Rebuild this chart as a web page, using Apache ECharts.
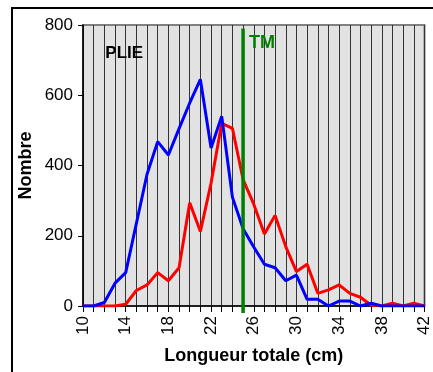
<!DOCTYPE html>
<html>
<head>
<meta charset="utf-8">
<script src="https://cdn.jsdelivr.net/npm/echarts@6/dist/echarts.min.js"></script>
<style>
  html, body { margin: 0; padding: 0; background: #fff; }
  #chart { width: 433px; height: 372px; }
</style>
</head>
<body>
<div id="chart"></div>
<script>
// Length classes (cm)
const lengths = ['10','11','12','13','14','15','16','17','18','19','20','21','22','23','24','25',
                 '26','27','28','29','30','31','32','33','34','35','36','37','38','39','40','41','42'];
// Catch counts per length class
const serieBleue = [0, 0, 10, 65, 95, 235, 375, 468, 430, 505, 578, 645, 450, 540, 310, 220,
                    168, 119, 109, 72, 88, 19, 19, 0, 14, 14, 0, 8, 0, 0, 0, 0, 0];
const serieRouge = [0, 0, 0, 0, 5, 44, 60, 95, 72, 109, 294, 212, 350, 520, 506, 360,
                    290, 205, 258, 169, 98, 119, 36, 46, 60, 36, 25, 2, 0, 8, 0, 8, 0];
// Size at maturity marker
const tailleMaturite = '25';
const yTicks = { min: 0, max: 800, interval: 200 };

const font = 'Arial, "Liberation Sans", sans-serif';
const chart = echarts.init(document.getElementById('chart'), null, { renderer: 'canvas' });

chart.setOption({
  animation: false,
  backgroundColor: '#ffffff',
  grid: {
    left: 83, right: 4, top: 25, bottom: 66,
    containLabel: false,
    show: true,
    backgroundColor: '#e2e2e2',
    borderColor: '#808080',
    borderWidth: 2
  },
  xAxis: {
    type: 'category',
    data: lengths,
    boundaryGap: false,
    name: 'Longueur totale (cm)',
    nameLocation: 'middle',
    nameGap: 41,
    nameMoveOverlap: false,
    nameTextStyle: { fontFamily: font, fontWeight: 'bold', fontSize: 18, color: '#000' },
    axisLine: { show: true, onZero: false, lineStyle: { color: '#000', width: 1.5 } },
    axisTick: { show: true, interval: 0, length: 6, inside: false, lineStyle: { color: '#000' } },
    axisLabel: { interval: 3, rotate: 90, margin: 10, fontFamily: font, fontSize: 17, color: '#000' },
    splitLine: { show: true, interval: 0, lineStyle: { color: '#333333', width: 1 } }
  },
  yAxis: {
    type: 'value',
    min: yTicks.min, max: yTicks.max, interval: yTicks.interval,
    name: 'Nombre',
    nameLocation: 'middle',
    nameRotate: 90,
    nameGap: 48,
    nameMoveOverlap: false,
    nameTextStyle: { fontFamily: font, fontWeight: 'bold', fontSize: 18, color: '#000' },
    axisLine: { show: true, lineStyle: { color: '#000', width: 1.5 } },
    axisTick: { show: true, length: 5, lineStyle: { color: '#000' } },
    axisLabel: { margin: 10, fontFamily: font, fontSize: 17, color: '#000' },
    splitLine: { show: false }
  },
  series: [
    {
      name: 'rouge', type: 'line', data: serieRouge,
      symbol: 'none', lineStyle: { color: '#ff0000', width: 3 }, z: 3
    },
    {
      name: 'bleue', type: 'line', data: serieBleue,
      symbol: 'none', lineStyle: { color: '#0000ff', width: 3 }, z: 4
    }
  ]
});

// Maturity line, species tag and outer frame placed through the axis scales
const xTM = chart.convertToPixel({ xAxisIndex: 0 }, tailleMaturite);
const yTop = chart.convertToPixel({ yAxisIndex: 0 }, 790);
const yBot = chart.convertToPixel({ yAxisIndex: 0 }, -20);
const xPlie = chart.convertToPixel({ xAxisIndex: 0 }, '12');
const yPlie = chart.convertToPixel({ yAxisIndex: 0 }, 720);
const yTM = chart.convertToPixel({ yAxisIndex: 0 }, 750);

chart.setOption({
  graphic: [
    {
      type: 'rect', z: 100, silent: true,
      shape: { x: 12, y: 8, width: 440, height: 400 },
      style: { fill: 'none', stroke: '#000', lineWidth: 2 }
    },
    {
      type: 'line', z: 50, silent: true,
      shape: { x1: xTM, y1: yTop, x2: xTM, y2: yBot },
      style: { stroke: '#008000', lineWidth: 3.5 }
    },
    {
      type: 'text', z: 50, silent: true,
      x: xTM + 6, y: yTM,
      style: { text: 'TM', fill: '#008000', font: 'bold 18px ' + font, textVerticalAlign: 'middle' }
    },
    {
      type: 'text', z: 50, silent: true,
      x: xPlie + 1, y: yPlie,
      style: { text: 'PLIE', fill: '#000', font: 'bold 17px ' + font, textVerticalAlign: 'middle' }
    }
  ]
});
</script>
</body>
</html>
